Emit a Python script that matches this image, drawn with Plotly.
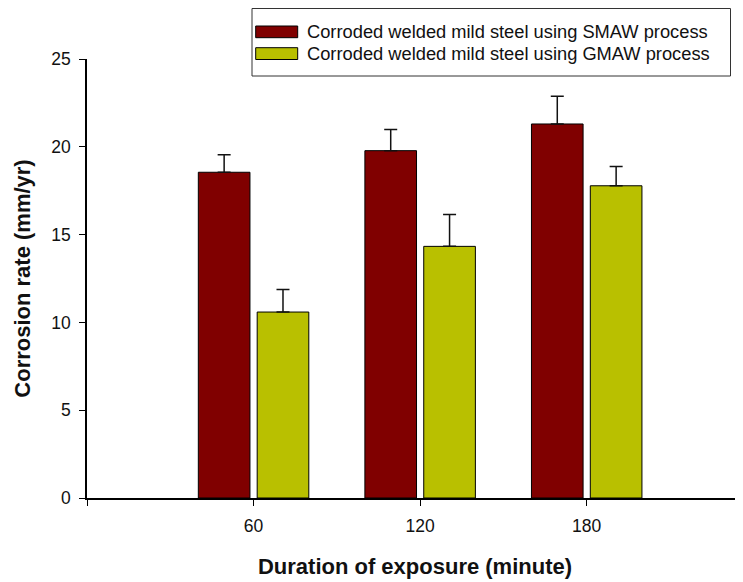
import plotly.graph_objects as go

# ---- data ----
durations = [60, 120, 180]
tick_vals = [0, 60, 120, 180]
tick_text = ["", "60", "120", "180"]
smaw_rate = [18.55, 19.78, 21.30]
smaw_err = [1.00, 1.20, 1.58]
gmaw_rate = [10.59, 14.33, 17.78]
gmaw_err = [1.29, 1.82, 1.10]
series_names = ["Corroded welded mild steel using SMAW process",
                "Corroded welded mild steel using GMAW process"]
smaw_color = "#800000"
gmaw_color = "#b9c000"

FONT = "Liberation Sans, Arial, sans-serif"
OFF = 8  # page body margin
W, H = 743 - OFF, 582 - OFF
ML, MR, MT, MB = 87 - OFF, 0, 59 - OFF, 84
PW, PH = W - ML - MR, H - MT - MB


def xp(px):
    # px given in window pixels
    return (px - OFF - ML) / PW


def yp(py):
    return (H - MB - (py - OFF)) / PH


fig = go.Figure()
fig.add_trace(go.Bar(
    x=durations, y=smaw_rate, name=series_names[0],
    width=18.6, offset=-19.9,
    marker=dict(color=smaw_color, line=dict(color="black", width=1)),
    error_y=dict(type="data", symmetric=False, array=smaw_err,
                 arrayminus=[0] * len(smaw_err), color="#111111",
                 thickness=1.5, width=6.5),
    showlegend=False,
))
fig.add_trace(go.Bar(
    x=durations, y=gmaw_rate, name=series_names[1],
    width=18.6, offset=1.3,
    marker=dict(color=gmaw_color, line=dict(color="black", width=1)),
    error_y=dict(type="data", symmetric=False, array=gmaw_err,
                 arrayminus=[0] * len(gmaw_err), color="#111111",
                 thickness=1.5, width=6.5),
    showlegend=False,
))

# legend drawn as a box with swatches and labels
shapes = [
    dict(type="rect", xref="paper", yref="paper",
         x0=xp(252), x1=xp(730.5), y0=yp(76), y1=yp(8.5),
         line=dict(color="#333333", width=1), fillcolor="white"),
]
annotations = []
rows = [(26, 37.7, 31.8, smaw_color, series_names[0]),
        (47.7, 59.5, 53.5, gmaw_color, series_names[1])]
for top, bot, mid, col, txt in rows:
    shapes.append(dict(type="rect", xref="paper", yref="paper",
                       x0=xp(255.7), x1=xp(297.7), y0=yp(bot), y1=yp(top),
                       line=dict(color="black", width=1), fillcolor=col))
    annotations.append(dict(xref="paper", yref="paper", x=xp(305), y=yp(mid),
                            xanchor="left", yanchor="middle", showarrow=False,
                            text=txt, font=dict(family=FONT, size=18.3, color="#111111")))

fig.update_layout(
    width=W, height=H,
    margin=dict(l=ML, r=MR, t=MT, b=MB, pad=0),
    plot_bgcolor="white", paper_bgcolor="white",
    barmode="overlay",
    shapes=shapes, annotations=annotations,
    font=dict(family=FONT, color="#111111"),
)
fig.update_xaxes(
    range=[0, 236.3], tickmode="array", tickvals=tick_vals, ticktext=tick_text,
    showgrid=False, zeroline=False, showline=True, linecolor="black", linewidth=1.5,
    ticks="outside", ticklen=6, tickwidth=1.2, tickcolor="black",
    tickfont=dict(family=FONT, size=17.5, color="#111111"), ticklabelstandoff=5,
    title=dict(text="<b>Duration of exposure (minute)</b>",
               font=dict(family=FONT, size=22, color="#111111"), standoff=24),
    automargin=False,
)
fig.update_yaxes(
    range=[0, 25], tickmode="array", tickvals=[0, 5, 10, 15, 20, 25],
    showgrid=False, zeroline=False, showline=True, linecolor="black", linewidth=1.5,
    ticks="outside", ticklen=6, tickwidth=1.2, tickcolor="black",
    tickfont=dict(family=FONT, size=17.5, color="#111111"), ticklabelstandoff=5,
    title=dict(text="<b>Corrosion rate (mm/yr)</b>",
               font=dict(family=FONT, size=22, color="#111111"), standoff=15),
    automargin=False,
)

fig.write_html("out.html")
